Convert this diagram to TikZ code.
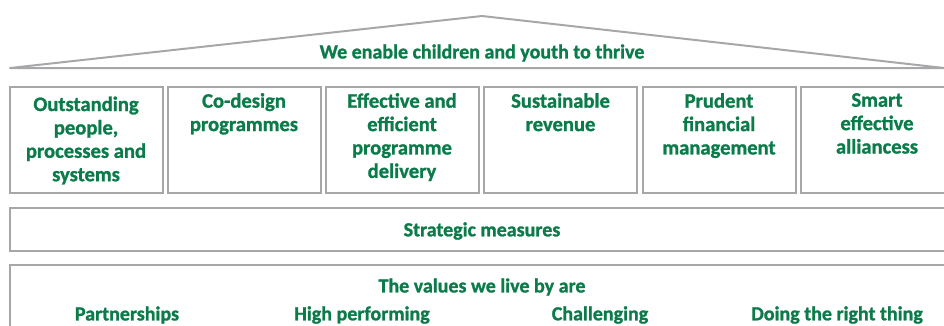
\documentclass[tikz,border=0pt]{standalone}
\usepackage{fontspec}
\setmainfont{Carlito}[BoldFeatures={FakeBold=1.2}]
\usepackage{tikz}

\definecolor{roofgray}{HTML}{A7A7AA}
\definecolor{valgreen}{HTML}{0B7B4A}

\tikzset{
  frame/.style={draw=roofgray, line width=2pt},
  pillar/.style={frame, minimum width=153pt, minimum height=106pt, inner sep=0pt},
  said/.style={text=valgreen, font=\bfseries\fontsize{20}{23.4}\selectfont, align=center, inner sep=0pt},
  pillartext/.style={said, font=\bfseries\fontsize{20.6}{23.4}\selectfont},
}

\begin{document}
\begin{tikzpicture}[x=1pt, y=-1pt]
  \useasboundingbox (0,0) rectangle (944,325);
  % --- roof ---
  \coordinate (eaveL) at (10,68);
  \coordinate (apex) at (482,16);
  \coordinate (eaveR) at (944,68);
  \draw[frame, line join=round] (eaveL) -- (apex) -- (eaveR) -- cycle;
  \node[said] (mission) at (482,53) {We enable children and youth to thrive};
  % --- pillars ---
  \node[pillar] (p1) at (86,139.5) {};
  \node[pillar] (p2) at (244,139.5) {};
  \node[pillar] (p3) at (402,139.5) {};
  \node[pillar] (p4) at (560.5,139.5) {};
  \node[pillar] (p5) at (719,139.5) {};
  \node[pillar] (p6) at (877,139.5) {};
  \node[pillartext] (t1) at ([yshift=-1]p1.center) {Outstanding\\people,\\processes and\\systems};
  \node[pillartext, anchor=north] (t2) at ([yshift=-7.5]p2.north) {Co-design\\programmes};
  \node[pillartext, anchor=north] (t3) at ([yshift=-7.5]p3.north) {Effective and\\efficient\\programme\\delivery};
  \node[pillartext, anchor=north] (t4) at ([yshift=-7.5]p4.north) {Sustainable\\revenue};
  \node[pillartext, anchor=north] (t5) at ([yshift=-7.5]p5.north) {Prudent\\financial\\management};
  \node[pillartext, anchor=north] (t6) at ([yshift=-7.5]p6.north) {Smart\\effective\\alliancess};
  % --- measures ---
  \draw[frame] (10,208) rectangle (960,251);
  \node[said] (measures) at (482,231) {Strategic measures};
  % --- values ---
  \draw[frame] (10,265) rectangle (960,345);
  \node[said] (valtitle) at (482,287) {The values we live by are};
  \node[said] (v1) at (127,315) {Partnerships};
  \node[said] (v2) at (362,315) {High performing};
  \node[said] (v3) at (600,315) {Challenging};
  \node[said] (v4) at (837,315) {Doing the right thing};
\end{tikzpicture}
\end{document}
